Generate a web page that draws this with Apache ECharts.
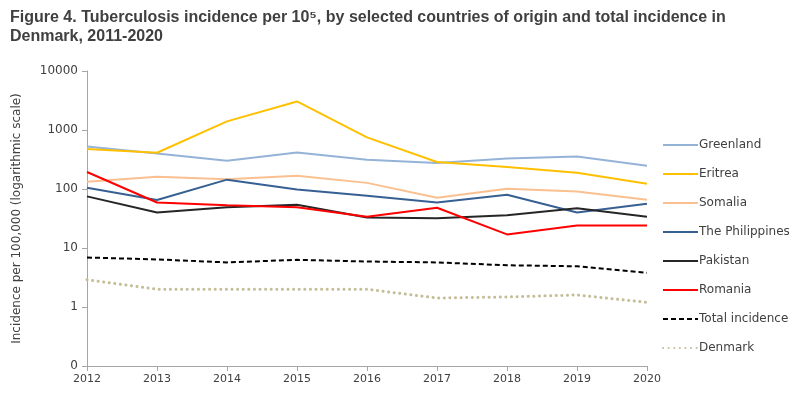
<!DOCTYPE html>
<html>
<head>
<meta charset="utf-8">
<script src="https://cdn.jsdelivr.net/npm/echarts@6/dist/echarts.min.js"></script>
<style>
  html, body { margin: 0; padding: 0; background: #fff; }
  #main { width: 800px; height: 396px; }
</style>
</head>
<body>
<div id="main"></div>
<script>
// values (per 100,000)
const years = ['2012', '2013', '2014', '2015', '2016', '2017', '2018', '2019', '2020'];
const greenland   = [527, 398, 302, 417, 313, 276, 330, 356, 248];
const eritrea     = [478, 412, 1400, 3050, 750, 287, 235, 189, 123];
const somalia     = [133, 161, 146, 168, 127, 71, 101, 91, 66];
const philippines = [105, 65, 144, 98, 77, 59, 80, 40, 56];
const pakistan    = [75, 40, 49, 54, 33, 32, 36, 47, 34];
const romania     = [194, 59, 53, 49, 34, 48, 17, 24, 24];
const total       = [6.9, 6.4, 5.7, 6.3, 5.9, 5.7, 5.1, 4.9, 3.8];
const denmark     = [2.9, 2.0, 2.0, 2.0, 2.0, 1.42, 1.48, 1.6, 1.2];

const FONT = 'DejaVu Sans';
const TEXT = '#404040';

function line(name, data, color, extra) {
  return {
    name: name,
    type: 'line',
    data: data,
    symbol: 'none',
    lineStyle: Object.assign({ color: color, width: 2 }, extra || {}),
    itemStyle: { color: color }
  };
}

const chart = echarts.init(document.getElementById('main'), null, { renderer: 'canvas' });

chart.setOption({
  animation: false,
  title: {
    text: 'Figure 4. Tuberculosis incidence per 10\u2075, by selected countries of origin and total incidence in\nDenmark, 2011-2020',
    left: 5,
    top: 3,
    textStyle: { fontFamily: 'Liberation Sans', fontWeight: 'bold', fontSize: 16, color: TEXT, lineHeight: 19 }
  },
  grid: { left: 87, right: 153, top: 71, bottom: 30 },
  legend: {
    orient: 'vertical',
    left: 657,
    top: 134,
    itemWidth: 35,
    itemHeight: 14,
    itemGap: 17,
    itemStyle: { opacity: 0 },
    lineStyle: { width: 2 },
    textStyle: { fontFamily: FONT, fontSize: 12, color: TEXT, padding: [0, 0, 0, -4] },
    data: ['Greenland', 'Eritrea', 'Somalia', 'The Philippines', 'Pakistan', 'Romania', 'Total incidence', 'Denmark']
  },
  xAxis: {
    type: 'category',
    boundaryGap: false,
    data: years,
    axisLine: { lineStyle: { color: '#a6a6a6', width: 1 } },
    axisTick: { alignWithLabel: true, length: 5, lineStyle: { color: '#a6a6a6' } },
    axisLabel: { fontFamily: FONT, fontSize: 11, color: TEXT, margin: 8 }
  },
  yAxis: {
    type: 'log',
    logBase: 10,
    min: 0.1,
    max: 10000,
    name: 'Incidence per 100,000 (logarithmic scale)',
    nameLocation: 'middle',
    nameGap: 64,
    nameTextStyle: { fontFamily: FONT, fontSize: 12, color: TEXT },
    axisLine: { show: true, lineStyle: { color: '#a6a6a6', width: 1 } },
    axisTick: { show: true, length: 5, lineStyle: { color: '#a6a6a6' } },
    splitLine: { show: false },
    axisLabel: {
      fontFamily: FONT, fontSize: 12, color: TEXT, margin: 9,
      formatter: function (v) { return String(Math.round(v)); }
    }
  },
  series: [
    line('Greenland', greenland, '#95b3d7'),
    line('Eritrea', eritrea, '#ffc000'),
    line('Somalia', somalia, '#fac090'),
    line('The Philippines', philippines, '#376092'),
    line('Pakistan', pakistan, '#262626'),
    line('Romania', romania, '#ff0000'),
    line('Total incidence', total, '#000000', { type: [5, 3] }),
    line('Denmark', denmark, '#c4bd97', { type: [0.1, 5.5], width: 3, cap: 'round' })
  ]
});
</script>
</body>
</html>
